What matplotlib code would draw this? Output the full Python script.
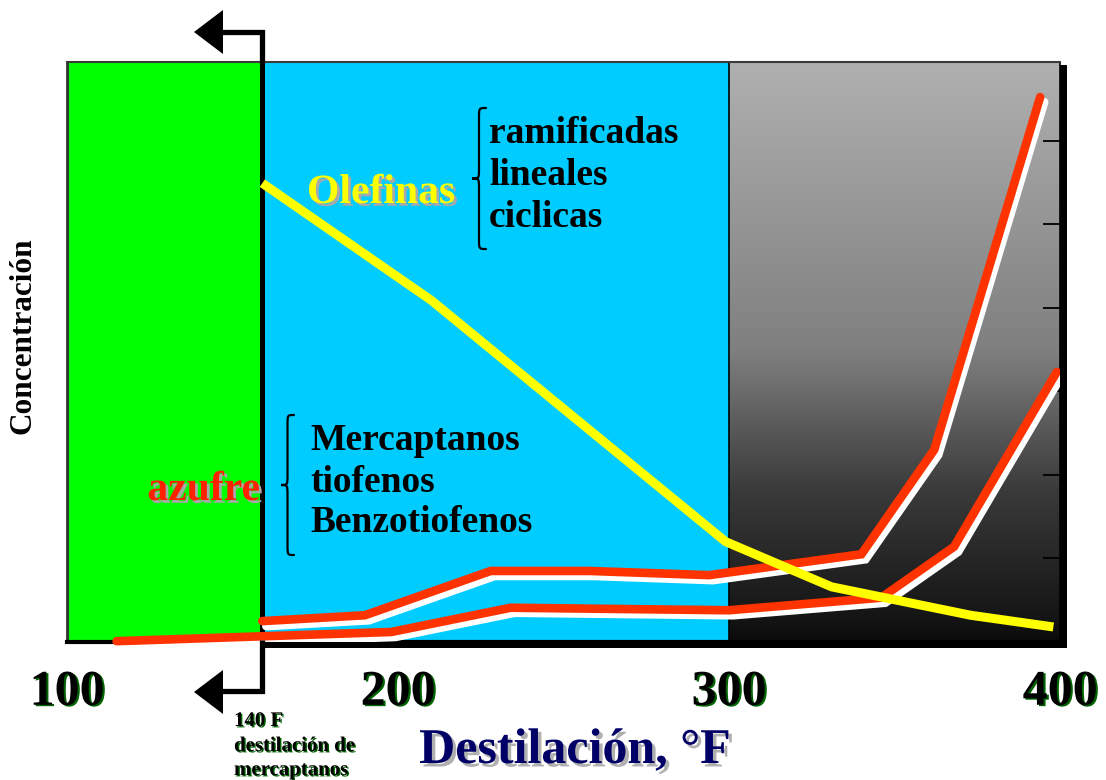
import numpy as np
import matplotlib
matplotlib.use("Agg")
import matplotlib.pyplot as plt
import matplotlib.patheffects as pe
from matplotlib import transforms
from matplotlib.path import Path
from matplotlib.patches import PathPatch, Polygon, Rectangle

# Distillation temperature (°F) versus relative concentration
olefin_temp = [159, 210, 299, 331, 373, 398]
olefin_conc = [5.49, 4.09, 1.20, 0.66, 0.32, 0.18]

sulfur_hi_temp = [159, 190, 228, 258, 294, 340, 362, 394]
sulfur_hi_conc = [0.25, 0.32, 0.85, 0.85, 0.80, 1.05, 2.30, 6.52]

sulfur_lo_temp = [115, 198, 234, 300, 346, 368, 399]
sulfur_lo_conc = [0.01, 0.12, 0.41, 0.38, 0.53, 1.14, 3.23]

x_ticks = [100, 200, 300, 400]
x_tick_labels = ["100", "200", "300", "400"]
y_ticks = [1, 2, 3, 4, 5, 6]

light_cut = 159    # end of the light (mercaptan) cut
heavy_cut = 300    # start of the heavy cut
x_min, x_max = 100, 400
y_top = 6.94

plt.rcParams["font.family"] = ["Liberation Serif", "DejaVu Serif"]
plt.rcParams["font.weight"] = "bold"

W, H = 1106, 780
fig = plt.figure(figsize=(W / 100, H / 100), dpi=100)
fig.patch.set_facecolor("white")

ax = fig.add_axes([67 / W, (H - 642) / H, (1060 - 67) / W, (642 - 62) / H], zorder=1)

# background bands
ax.axvspan(x_min, light_cut, color="#00FF00", zorder=0, lw=0)
ax.axvspan(light_cut, heavy_cut, color="#00CCFF", zorder=0, lw=0)
f = np.linspace(0, 1, 400)[:, None]
g = np.interp(f, [0, 0.038, 0.262, 0.503, 1.0], [0.04, 0.08, 0.23, 0.50, 0.69])
img = np.dstack([g, g, g])
ax.imshow(img, extent=(heavy_cut, x_max, 0, y_top), origin="lower",
          aspect="auto", zorder=0, interpolation="bilinear")
ax.axvline(light_cut, color="black", lw=3.6, zorder=2)
ax.axvline(heavy_cut, color="black", lw=1.2, zorder=2)

shadow_tr = transforms.offset_copy(ax.transData, fig=fig, x=4, y=-5, units="dots")


def shadowed_line(x, y, color, lw):
    kw = dict(lw=lw, solid_joinstyle="miter", solid_capstyle="round",
              clip_on=False)
    ax.plot(x, y, color="white", transform=shadow_tr, zorder=3, **kw)
    ax.plot(x, y, color=color, zorder=4, **kw)


shadowed_line(sulfur_lo_temp, sulfur_lo_conc, "#FF3300", 6.2)
shadowed_line(sulfur_hi_temp, sulfur_hi_conc, "#FF3300", 6.2)
ax.plot(olefin_temp, olefin_conc, color="#FFFF00", lw=6.5,
        solid_joinstyle="miter", solid_capstyle="butt", zorder=5, clip_on=False)

ax.set_xlim(x_min, x_max)
ax.set_ylim(0, y_top)

ax.set_yticks(y_ticks)
ax.tick_params(axis="y", left=False, right=True, labelleft=False, labelright=False,
               direction="in", length=12, width=1.3, color="black")
ax.set_xticks(x_ticks, x_tick_labels)
ax.tick_params(axis="x", length=0, pad=20, labelsize=36)
for t in ax.xaxis.get_major_ticks():
    t.label1.set_fontweight("bold")
    t.label1.set_path_effects([
        pe.SimplePatchShadow(offset=(1.5, -1), shadow_rgbFace="#006400", alpha=1),
        pe.Normal()])

ax.spines["top"].set(color="#3a3a3a", lw=1.5)
ax.spines["left"].set(color="#333333", lw=2)
ax.spines["bottom"].set(color="black", lw=3)
ax.spines["right"].set(color="black", lw=1.2)

# overlay in pixel coordinates for annotations
ov = fig.add_axes([0, 0, 1, 1], zorder=5)
ov.set_xlim(0, W)
ov.set_ylim(H, 0)
ov.axis("off")

# frame drop shadow
ov.add_patch(Rectangle((1060, 65), 7, 583, color="black", lw=0))
ov.add_patch(Rectangle((262, 642), 805, 6, color="black", lw=0))

# bent arrows marking the light cut
ov.plot([220, 262, 262], [32, 32, 64], color="black", lw=3.8,
        solid_joinstyle="miter", solid_capstyle="butt")
ov.add_patch(Polygon([(194, 32), (223, 10), (223, 54)], closed=True,
                     color="black", lw=0))
ov.plot([262, 262, 220], [640, 691, 691], color="black", lw=3.8,
        solid_joinstyle="miter", solid_capstyle="butt")
ov.add_patch(Polygon([(194, 692), (223, 670), (223, 714)], closed=True,
                     color="black", lw=0))


def brace(xr, xl, yt, yb, r=10):
    xm = (xr + xl) / 2
    ym = (yt + yb) / 2
    verts = [(xr, yt), (xm, yt), (xm, yt), (xm, yt + r),
             (xm, ym - r), (xm, ym), (xm, ym), (xl, ym),
             (xm, ym), (xm, ym), (xm, ym + r),
             (xm, yb - r), (xm, yb), (xm, yb), (xr, yb)]
    codes = [Path.MOVETO, Path.CURVE4, Path.CURVE4, Path.CURVE4,
             Path.LINETO, Path.CURVE4, Path.CURVE4, Path.CURVE4,
             Path.CURVE4, Path.CURVE4, Path.CURVE4,
             Path.LINETO, Path.CURVE4, Path.CURVE4, Path.CURVE4]
    ov.add_patch(PathPatch(Path(verts, codes), fill=False, lw=1.6,
                           edgecolor="black", capstyle="round"))


brace(486, 472, 108, 249)
brace(294, 281, 415, 555)

gray_shadow = [pe.SimplePatchShadow(offset=(2, -2), shadow_rgbFace="#a8a8a8", alpha=1),
               pe.Normal()]

ov.text(307, 203, "Olefinas", color="#FFFF00", fontsize=30, fontweight="bold",
        ha="left", va="baseline", path_effects=gray_shadow)
for txt, yb in zip(["ramificadas", "lineales", "ciclicas"], [143, 185, 227]):
    ov.text(489, yb, txt, color="black", fontsize=27, fontweight="bold",
            ha="left", va="baseline")

ov.text(260, 500, "azufre", color="#FF2200", fontsize=30, fontweight="bold",
        ha="right", va="baseline", path_effects=gray_shadow)
for txt, yb in zip(["Mercaptanos", "tiofenos", "Benzotiofenos"], [450, 492, 532]):
    ov.text(310, yb, txt, color="black", fontsize=27, fontweight="bold",
            ha="left", va="baseline")

ov.text(23, 336, "Concentración", color="black", fontsize=22.5, fontweight="bold",
        rotation=90, ha="center", va="center")

ov.text(575, 763, "Destilación, °F", color="#000066", fontsize=36, fontweight="bold",
        ha="center", va="baseline",
        path_effects=[pe.SimplePatchShadow(offset=(2.5, -2.5), shadow_rgbFace="#b0b0b0",
                                           alpha=1), pe.Normal()])

green_shadow = [pe.SimplePatchShadow(offset=(1, -1), shadow_rgbFace="#006400", alpha=1),
                pe.Normal()]
for txt, yb in zip(["140 F", "destilación de", "mercaptanos"], [726, 751, 775]):
    ov.text(234, yb, txt, color="black", fontsize=15, fontweight="bold",
            ha="left", va="baseline", path_effects=green_shadow)

fig.savefig("out.png", dpi=100)
